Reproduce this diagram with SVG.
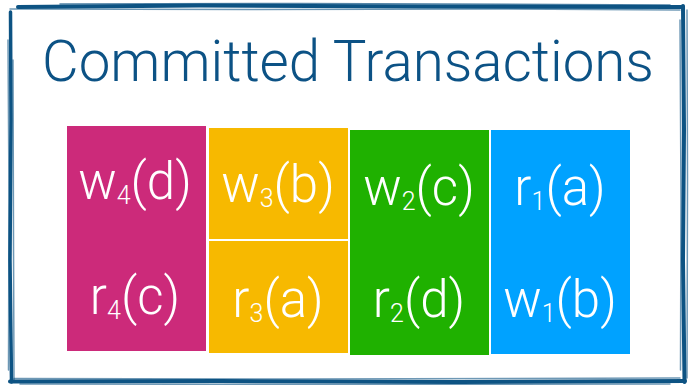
<svg xmlns="http://www.w3.org/2000/svg" width="692" height="385" viewBox="0 0 692 385">
<style>
.frame{fill:none;stroke:#0d5383;stroke-linecap:round;stroke-linejoin:round}
.lbl{font-family:Roboto,"Liberation Sans",Arial,sans-serif;font-weight:300;font-size:51px;fill:#ffffff;text-anchor:middle}
.sub{font-size:25px}
.title{font-family:Roboto,"Liberation Sans",Arial,sans-serif;font-weight:300;font-size:58px;fill:#0c5285}
</style>
<rect x="0" y="0" width="692" height="385" fill="#ffffff"/>
<g id="frame">
<path class="frame" stroke-width="4" d="M18,7 L200,5.5 L420,6.5 L683,7"/>
<path class="frame" stroke-width="1.5" opacity="0.7" d="M60,4 L300,3.5 L560,4.5 L670,5"/>
<path class="frame" stroke-width="1.5" opacity="0.6" d="M10,9 L250,9.5 L500,9 L680,10"/>
<path class="frame" stroke-width="3.5" d="M10.5,12 L11,120 L10,260 L11.5,382"/>
<path class="frame" stroke-width="1.5" opacity="0.6" d="M8,40 L9,200 L8.5,370"/>
<path class="frame" stroke-width="1.5" opacity="0.6" d="M13,60 L13.5,240 L14,380"/>
<path class="frame" stroke-width="4" d="M683,6 L684,130 L683,260 L684.5,382"/>
<path class="frame" stroke-width="1.5" opacity="0.6" d="M680,20 L681,200 L680.5,370"/>
<path class="frame" stroke-width="1.5" opacity="0.6" d="M687,10 L687.5,180 L687,378"/>
<path class="frame" stroke-width="4" d="M10,381.5 L220,381 L460,382 L685,381"/>
<path class="frame" stroke-width="1.5" opacity="0.6" d="M14,378.5 L300,379 L680,378"/>
<path class="frame" stroke-width="1.5" opacity="0.6" d="M20,384 L350,384.5 L670,384"/>
</g>
<g id="title">
<text class="title" x="42" y="81" textLength="612" lengthAdjust="spacingAndGlyphs">Committed Transactions</text>
</g>
<g id="t4">
<rect x="67" y="126" width="139" height="225" fill="#cc2a7a"/>
<text class="lbl" x="135" y="199">w<tspan class="sub" dy="5">4</tspan><tspan dy="-5">(d)</tspan></text>
<text class="lbl" x="135" y="314">r<tspan class="sub" dy="5">4</tspan><tspan dy="-5">(c)</tspan></text>
</g>
<g id="t3">
<rect x="209" y="128" width="139" height="111" fill="#f7b900"/>
<rect x="209" y="241" width="139" height="112" fill="#f7b900"/>
<text class="lbl" x="278" y="202">w<tspan class="sub" dy="5">3</tspan><tspan dy="-5">(b)</tspan></text>
<text class="lbl" x="278" y="317">r<tspan class="sub" dy="5">3</tspan><tspan dy="-5">(a)</tspan></text>
</g>
<g id="t2">
<rect x="350" y="130" width="139" height="225" fill="#1fb100"/>
<text class="lbl" x="419" y="205">w<tspan class="sub" dy="5">2</tspan><tspan dy="-5">(c)</tspan></text>
<text class="lbl" x="419" y="317">r<tspan class="sub" dy="5">2</tspan><tspan dy="-5">(d)</tspan></text>
</g>
<g id="t1">
<rect x="491" y="130" width="139" height="224" fill="#00a2ff"/>
<text class="lbl" x="560" y="205">r<tspan class="sub" dy="5">1</tspan><tspan dy="-5">(a)</tspan></text>
<text class="lbl" x="560" y="317">w<tspan class="sub" dy="5">1</tspan><tspan dy="-5">(b)</tspan></text>
</g>
<g id="connectors"></g>
</svg>
